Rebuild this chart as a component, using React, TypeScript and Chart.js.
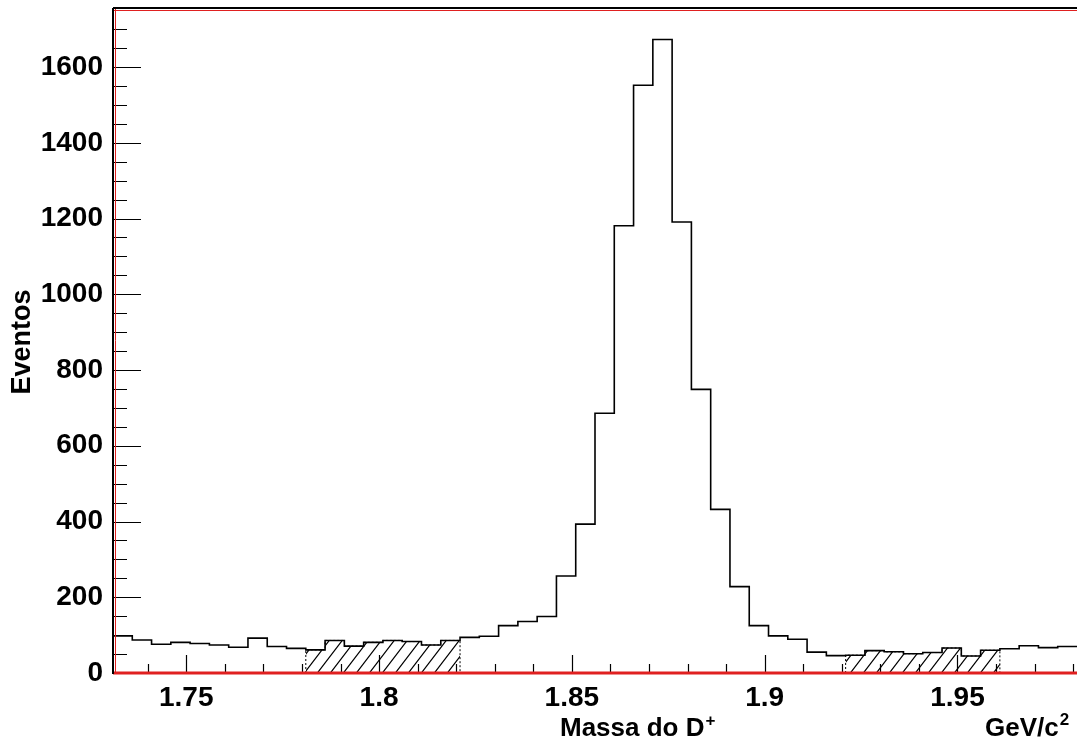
import React, { useEffect, useRef } from "react";
import { Chart, registerables } from "chart.js";

Chart.register(...registerables);

// Histogram binning (GeV/c^2)
const binLow = 1.731;
const binWidth = 0.005;
// Events per bin (50 bins)
const counts = [
  98, 87, 76, 81, 78, 74, 68, 92, 70, 65,
  61, 86, 71, 81, 86, 83, 74, 86, 94, 97,
  125, 136, 149, 256, 393, 686, 1181, 1552, 1673, 1191,
  749, 432, 228, 125, 98, 89, 55, 46, 47, 59,
  56, 51, 54, 66, 45, 60, 64, 72, 67, 70,
];
// Hatched side-band bin ranges (inclusive bin indices)
const sideBands = [
  [10, 17],
  [38, 45],
];
const xTickLabels = [1.75, 1.8, 1.85, 1.9, 1.95];
const yTickLabels = [0, 200, 400, 600, 800, 1000, 1200, 1400, 1600];
const yMax = 1756;
const xTitle = "Massa do D";
const xTitleSup = "+";
const xUnit = "GeV/c";
const xUnitSup = "2";
const yTitle = "Eventos";

const FONT = '"Liberation Sans", Arial, Helvetica, sans-serif';

function edge(i: number) {
  return +(binLow + i * binWidth).toFixed(4);
}

function histPoints() {
  const pts = counts.map((c, i) => ({ x: edge(i), y: c }));
  pts.push({ x: edge(counts.length), y: counts[counts.length - 1] });
  return pts;
}

function bandPoints(a: number, b: number) {
  const pts: { x: number; y: number }[] = [{ x: edge(a), y: 0 }];
  for (let i = a; i <= b; i++) pts.push({ x: edge(i), y: counts[i] });
  pts.push({ x: edge(b + 1), y: counts[b] });
  pts.push({ x: edge(b + 1), y: 0 });
  return pts;
}

function makeHatch(): CanvasPattern | string {
  const c = document.createElement("canvas");
  const w = 13,
    h = 17;
  c.width = w;
  c.height = h;
  const g = c.getContext("2d");
  if (!g) return "rgba(0,0,0,0)";
  g.strokeStyle = "#000";
  g.lineWidth = 1.2;
  g.beginPath();
  g.moveTo(-w, 2 * h);
  g.lineTo(2 * w, -h);
  g.moveTo(-2 * w, 2 * h);
  g.lineTo(w, -h);
  g.moveTo(0, 2 * h);
  g.lineTo(3 * w, -h);
  g.stroke();
  const p = g.createPattern(c, "repeat");
  return p || "rgba(0,0,0,0)";
}

const framePlugin = {
  id: "rootFrame",
  afterDatasetsDraw(chart: any) {
    const ctx = chart.ctx as CanvasRenderingContext2D;
    const { left, right, top, bottom } = chart.chartArea;
    const xs = chart.scales.x;
    const ys = chart.scales.y;
    ctx.save();
    // ticks (inside)
    ctx.strokeStyle = "#000";
    ctx.lineWidth = 1.2;
    ctx.beginPath();
    for (let v = 0; v <= yMax; v += 50) {
      const y = Math.round(ys.getPixelForValue(v)) + 0.5;
      const len = v % 200 === 0 ? 28 : 14;
      ctx.moveTo(left, y);
      ctx.lineTo(left + len, y);
    }
    for (let k = 174; k <= 198; k++) {
      const v = k / 100;
      const x = Math.round(xs.getPixelForValue(v)) + 0.5;
      if (x < left || x > right) continue;
      const len = k % 5 === 0 ? 18 : 9;
      ctx.moveTo(x, bottom);
      ctx.lineTo(x, bottom - len);
    }
    ctx.stroke();
    // red frame lines
    ctx.strokeStyle = "#e02020";
    ctx.lineWidth = 1;
    ctx.beginPath();
    ctx.moveTo(left, top + 2.5);
    ctx.lineTo(right, top + 2.5);
    ctx.moveTo(left + 2.5, top);
    ctx.lineTo(left + 2.5, bottom);
    ctx.stroke();
    ctx.lineWidth = 3;
    ctx.beginPath();
    ctx.moveTo(left, bottom);
    ctx.lineTo(right, bottom);
    ctx.stroke();
    // black axes
    ctx.strokeStyle = "#000";
    ctx.lineWidth = 2;
    ctx.beginPath();
    ctx.moveTo(left, top);
    ctx.lineTo(right, top);
    ctx.moveTo(left, top);
    ctx.lineTo(left, bottom + 1);
    ctx.stroke();
    // titles
    ctx.fillStyle = "#000";
    ctx.textBaseline = "alphabetic";
    ctx.font = `bold 26px ${FONT}`;
    ctx.textAlign = "left";
    const tx = 560;
    const ty = 736;
    ctx.fillText(xTitle, tx, ty);
    const w1 = ctx.measureText(xTitle).width;
    ctx.font = `bold 17px ${FONT}`;
    ctx.fillText(xTitleSup, tx + w1 + 1, ty - 10);
    ctx.font = `bold 26px ${FONT}`;
    const ux = 985;
    ctx.fillText(xUnit, ux, ty);
    const w2 = ctx.measureText(xUnit).width;
    ctx.font = `bold 17px ${FONT}`;
    ctx.fillText(xUnitSup, ux + w2 + 1, ty - 11);
    ctx.save();
    ctx.translate(30, 342);
    ctx.rotate(-Math.PI / 2);
    ctx.textAlign = "center";
    ctx.font = `bold 27px ${FONT}`;
    ctx.fillText(yTitle, 0, 0);
    ctx.restore();
    ctx.restore();
  },
};

export default function App() {
  const ref = useRef<HTMLCanvasElement | null>(null);
  useEffect(() => {
    if (!ref.current) return;
    const hatch = makeHatch();
    const datasets: any[] = [
      {
        data: histPoints(),
        borderColor: "#000",
        borderWidth: 1.6,
        stepped: true,
        pointRadius: 0,
        fill: false,
        order: 0,
      },
    ];
    sideBands.forEach(([a, b]) => {
      datasets.push({
        data: bandPoints(a, b),
        borderColor: "#000",
        borderWidth: 1,
        borderDash: [2, 2],
        backgroundColor: hatch,
        stepped: true,
        pointRadius: 0,
        fill: "origin",
        order: 1,
      });
    });
    const chart = new Chart(ref.current, {
      type: "line",
      data: { datasets },
      options: {
        animation: false,
        responsive: false,
        events: [],
        layout: { padding: { top: 8, right: 0, left: 0, bottom: 0 } },
        plugins: { legend: { display: false }, tooltip: { enabled: false } },
        scales: {
          x: {
            type: "linear",
            min: edge(0),
            max: edge(counts.length),
            grid: { display: false },
            border: { display: false },
            afterBuildTicks: (s: any) => {
              s.ticks = xTickLabels.map((v) => ({ value: v }));
            },
            afterFit: (s: any) => {
              s.height = 78;
              s.paddingLeft = 0;
              s.paddingRight = 0;
            },
            ticks: {
              autoSkip: false,
              maxRotation: 0,
              padding: 0,
              color: "#000",
              font: { family: FONT, size: 28, weight: "bold" },
              callback: (v: any) => String(+(+v).toFixed(2)),
            },
          },
          y: {
            type: "linear",
            min: 0,
            max: yMax,
            grid: { display: false },
            border: { display: false },
            afterBuildTicks: (s: any) => {
              s.ticks = yTickLabels.map((v) => ({ value: v }));
            },
            afterFit: (s: any) => {
              s.width = 113;
              s.paddingTop = 0;
              s.paddingBottom = 0;
            },
            ticks: {
              autoSkip: false,
              padding: 2,
              color: "#000",
              font: { family: FONT, size: 28, weight: "bold" },
              callback: (v: any) => String(v),
            },
          },
        },
      } as any,
      plugins: [framePlugin],
    });
    return () => chart.destroy();
  }, []);
  return (
    <div style={{ position: "absolute", left: 0, top: 0, width: 1077, height: 751, background: "#fff" }}>
      <canvas ref={ref} width={1077} height={751} style={{ display: "block" }} />
    </div>
  );
}
